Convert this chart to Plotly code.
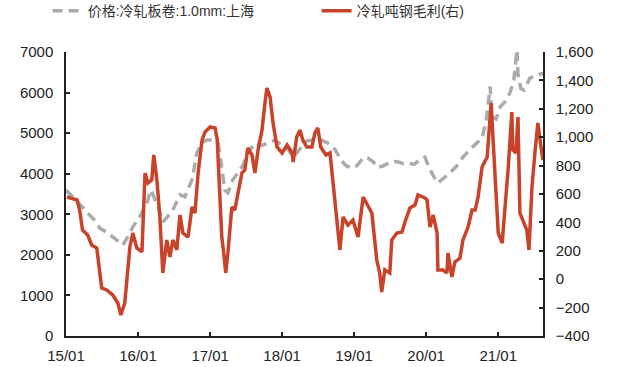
import plotly.graph_objects as go

price_dates = [
    "2015-01-01", "2015-02-06", "2015-03-11", "2015-04-16", "2015-05-26", "2015-06-21",
    "2015-07-26", "2015-09-06", "2015-10-16", "2015-11-11", "2015-12-06",
    "2016-01-11", "2016-02-16", "2016-03-06", "2016-04-11", "2016-05-06", "2016-06-21",
    "2016-08-01", "2016-08-26", "2016-10-01", "2016-10-26", "2016-11-21", "2016-12-16",
    "2017-01-11", "2017-02-11", "2017-02-26", "2017-03-16", "2017-04-01", "2017-04-26",
    "2017-05-21", "2017-06-16", "2017-07-11", "2017-08-16", "2017-09-21", "2017-10-21",
    "2017-11-26",
    "2018-01-01", "2018-02-01", "2018-02-26", "2018-04-01", "2018-05-01", "2018-06-01",
    "2018-07-11", "2018-08-21", "2018-09-26", "2018-10-26", "2018-11-21", "2018-12-16",
    "2019-01-16", "2019-02-16", "2019-03-11", "2019-04-06", "2019-05-01", "2019-05-26",
    "2019-07-01", "2019-08-06", "2019-09-06", "2019-10-01", "2019-11-01", "2019-12-01",
    "2019-12-26",
    "2020-01-11", "2020-02-06", "2020-03-01", "2020-04-01", "2020-05-01", "2020-06-06",
    "2020-07-06", "2020-08-11", "2020-09-16", "2020-10-11", "2020-11-01", "2020-11-21",
    "2020-12-01", "2020-12-21",
    "2021-01-11", "2021-02-06", "2021-03-01", "2021-03-21", "2021-04-06", "2021-04-11",
    "2021-04-26", "2021-05-11", "2021-06-11", "2021-07-11", "2021-08-16",
]
price_values = [
    3600, 3430, 3250, 3060, 2850, 2660,
    2560, 2400, 2240, 2450, 2690,
    2950, 3280, 3600, 3200, 2810, 3060,
    3480, 3430, 3850, 4510, 4780, 4830,
    4830, 4750, 4250, 3600, 3530, 3850,
    4020, 4200, 4510, 4760, 4700, 4760,
    4830,
    4700, 4600, 4400, 4600, 4800, 4830,
    4850, 4750, 4600, 4340, 4200, 4140,
    4200, 4390, 4390, 4300, 4150, 4190,
    4280, 4300, 4250, 4260, 4230, 4350,
    4410,
    4215, 3950, 3770, 3900, 4020, 4200,
    4410, 4600, 4780, 4880, 5300, 6150,
    5400, 5350,
    5650, 5780, 5990, 6300, 7050, 6450,
    6100, 6060, 6360, 6420, 6480,
]

profit_dates = [
    "2015-01-06", "2015-02-01", "2015-02-26", "2015-03-11", "2015-03-26", "2015-04-21",
    "2015-05-11", "2015-06-06", "2015-06-21", "2015-07-01", "2015-07-26", "2015-08-26",
    "2015-09-21", "2015-10-06", "2015-10-26", "2015-11-21", "2015-12-06", "2015-12-26",
    "2016-01-21", "2016-02-06", "2016-02-21", "2016-03-11", "2016-03-21", "2016-04-06",
    "2016-04-21", "2016-05-06", "2016-05-26", "2016-06-11", "2016-06-26", "2016-07-16",
    "2016-08-01", "2016-08-16", "2016-09-11", "2016-10-01", "2016-10-16", "2016-11-01",
    "2016-11-21", "2016-12-06",
    "2017-01-01", "2017-01-26", "2017-02-06", "2017-02-21", "2017-03-01", "2017-03-11",
    "2017-03-21", "2017-04-01", "2017-04-21", "2017-05-06", "2017-05-21", "2017-06-11",
    "2017-06-26", "2017-07-11", "2017-08-01", "2017-08-16", "2017-09-01", "2017-09-21",
    "2017-10-06", "2017-10-16", "2017-11-01", "2017-11-16", "2017-12-06",
    "2018-01-01", "2018-01-26", "2018-02-21", "2018-02-26", "2018-03-16", "2018-04-01",
    "2018-04-16", "2018-05-06", "2018-06-01", "2018-06-16", "2018-07-01", "2018-07-16",
    "2018-08-11", "2018-09-01", "2018-09-16", "2018-10-01", "2018-10-21", "2018-11-06",
    "2018-12-01", "2018-12-26",
    "2019-01-21", "2019-02-16", "2019-03-06", "2019-04-01", "2019-04-26", "2019-05-11",
    "2019-05-21", "2019-06-06", "2019-07-01", "2019-07-11", "2019-08-06", "2019-09-01",
    "2019-09-16", "2019-10-11", "2019-11-06", "2019-11-21", "2019-12-26",
    "2020-01-06", "2020-01-21", "2020-02-06", "2020-02-26", "2020-03-01", "2020-03-26",
    "2020-04-16", "2020-04-21", "2020-05-11", "2020-05-26", "2020-06-21", "2020-07-06",
    "2020-08-01", "2020-08-21", "2020-09-06", "2020-09-21", "2020-10-11", "2020-11-06",
    "2020-11-11", "2020-11-26", "2020-12-06", "2020-12-21",
    "2021-01-01", "2021-01-21", "2021-02-06", "2021-02-21", "2021-03-11", "2021-03-16",
    "2021-04-01", "2021-04-11", "2021-04-21", "2021-05-06", "2021-05-26", "2021-06-06",
    "2021-06-21", "2021-07-06", "2021-07-21", "2021-08-06", "2021-08-16",
]
profit_values = [
    579, 570, 558, 487, 346, 311,
    241, 220, 44, -62, -76, -111,
    -168, -252, -168, 227, 325, 220,
    192, 748, 677, 699, 875, 699,
    438, 44, 276, 156, 276, 206,
    452, 325, 297, 508, 466, 748,
    980, 1037,
    1072, 1065, 980, 508, 297, 184,
    44, 184, 508, 487, 607, 748,
    769, 924, 875, 748, 910, 1050,
    1241, 1346, 1283, 1100, 931,
    889, 945, 889, 825, 1001, 1050,
    980, 931, 931, 1029, 1065, 931,
    875, 889, 699, 466, 206, 438,
    381, 417,
    297, 579, 537, 466, 135, 44,
    -90, 65, 44, 276, 325, 332,
    403, 501, 522, 593, 572,
    558, 367, 452, 325, 65, 65,
    44, 184, 16, 121, 149, 276,
    367, 487, 487, 579, 790, 861,
    980, 1241, 980, 628,
    325, 255, 508, 790, 1177, 910,
    889, 1142, 466, 417, 346, 206,
    649, 889, 1100, 931, 839,
]

tick_dates = ["2015-01-01", "2016-01-01", "2017-01-01", "2018-01-01",
              "2019-01-01", "2020-01-01", "2021-01-01"]
tick_labels = ["15/01", "16/01", "17/01", "18/01", "19/01", "20/01", "21/01"]

name_price = "价格:冷轧板卷:1.0mm:上海"
name_profit = "冷轧吨钢毛利(右)"

FONT = "Arial, 'Liberation Sans', 'Noto Sans CJK SC', sans-serif"
AX = "#222222"

fig = go.Figure()
fig.add_trace(go.Scatter(
    x=price_dates, y=price_values, name=name_price, mode="lines",
    line=dict(color="#ABABAB", width=3.5, dash="10px,6px"),
    yaxis="y",
))
fig.add_trace(go.Scatter(
    x=profit_dates, y=profit_values, name=name_profit, mode="lines",
    line=dict(color="#C8432A", width=3.5),
    yaxis="y2",
))

fig.update_layout(
    width=617, height=367,
    margin=dict(l=66, r=74, t=52, b=31, autoexpand=False),
    paper_bgcolor="white", plot_bgcolor="white",
    font=dict(family=FONT, size=15, color="#222222"),
    showlegend=True,
    legend=dict(
        orientation="h", x=-0.0385, xanchor="left", y=1.2, yanchor="top",
        font=dict(size=14, color="#333333"),
        entrywidth=224, entrywidthmode="pixels",
        bgcolor="rgba(0,0,0,0)",
    ),
    xaxis=dict(
        type="date", range=["2015-01-01", "2021-08-16"],
        tickvals=tick_dates, ticktext=tick_labels,
        showline=True, linecolor=AX, linewidth=1.5,
        ticks="inside", ticklen=4, tickwidth=1.5, tickcolor=AX,
        showgrid=False, zeroline=False, ticklabelstandoff=5,
    ),
    yaxis=dict(
        range=[0, 7000], dtick=1000, tick0=0,
        showline=True, linecolor=AX, linewidth=1.5,
        ticks="inside", ticklen=4, tickwidth=1.5, tickcolor=AX,
        showgrid=False, zeroline=False, ticklabelstandoff=8,
    ),
    yaxis2=dict(
        range=[-400, 1600], dtick=200, tick0=-400, tickformat=",",
        overlaying="y", side="right",
        showline=True, linecolor=AX, linewidth=1.5,
        ticks="inside", ticklen=4, tickwidth=1.5, tickcolor=AX,
        showgrid=False, zeroline=False, ticklabelstandoff=8,
    ),
)

fig.write_html(
    "out.html",
    config={"displayModeBar": False},
    post_script="document.body.style.margin='0';document.body.style.overflow='hidden';",
)
